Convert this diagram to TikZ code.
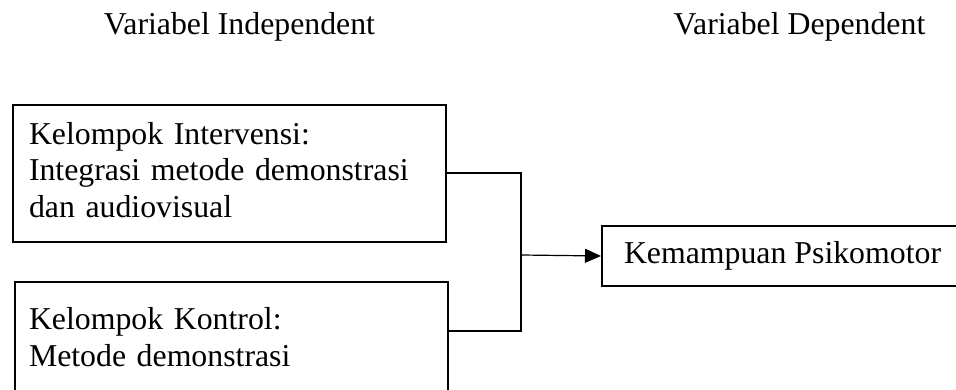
\documentclass[tikz,border=0pt]{standalone}
\usepackage{fontspec}
\setmainfont{Liberation Serif}
\usetikzlibrary{positioning,arrows.meta}

\tikzset{
  txt/.style={font=\fontsize{31.8}{36.7}\selectfont},
  varbox/.style={draw,line width=2pt,txt,align=left,inner xsep=16pt,inner ysep=0pt},
  link/.style={line width=2pt},
  arrow/.style={-{Triangle[length=16pt,width=14pt]},line width=1.2pt}
}

\begin{document}
\begin{tikzpicture}[x=1pt,y=-1pt]
    \useasboundingbox (0,0) rectangle (956,390);
    \clip (0,0) rectangle (956,390);

    \node[txt,anchor=base] (indep) at (239.5,35) {Variabel Independent};
    \node[txt,anchor=base] (dep) at (799.5,35) {Variabel Dependent};

    \node[varbox,minimum width=433pt,minimum height=137pt,text width=401pt] (inter) at (229.5,173.5)
        {\strut Kelompok Intervensi:\\Integrasi metode demonstrasi\\dan audiovisual\strut};
    \node[varbox,inner xsep=14pt,minimum width=433pt,minimum height=118pt,text width=405pt] (kontrol) [below of=inter,node distance=167.5pt,xshift=2pt]
        {\strut Kelompok Kontrol:\\Metode demonstrasi\strut};
    \node[varbox,inner xsep=22pt,minimum height=60pt,anchor=west] (psiko) at (601,256)
        {\strut Kemampuan Psikomotor};

    \coordinate (join) at (521,255);
    \draw[link] (inter.east) -| (join) |- ([yshift=10pt]kontrol.east);
    \draw[arrow] (join) -- (psiko.west);
\end{tikzpicture}
\end{document}
